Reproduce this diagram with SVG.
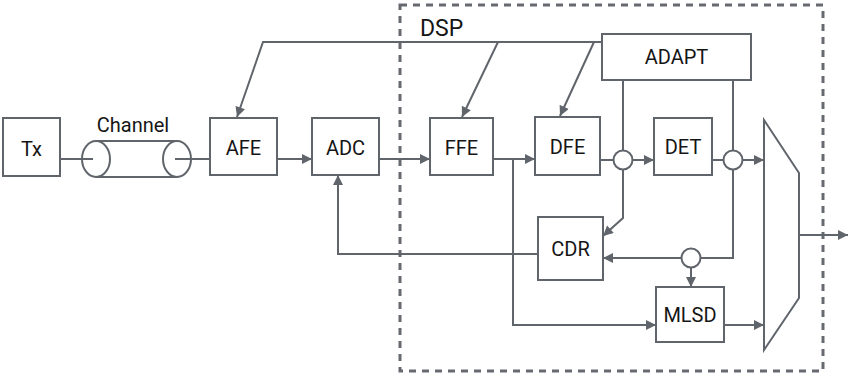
<svg xmlns="http://www.w3.org/2000/svg" width="850" height="376" viewBox="0 0 850 376">
<defs>
<style>
.box{fill:#fff;stroke:#60646b;stroke-width:2}
.ln{fill:none;stroke:#60646b;stroke-width:2}
.arr{fill:none;stroke:#60646b;stroke-width:2;marker-end:url(#ah)}
.t{font-family:Roboto,"Liberation Sans",sans-serif;font-size:20px;fill:#151515;text-anchor:middle}
.cir{fill:#fff;stroke:#60646b;stroke-width:2}
</style>
<marker id="ah" viewBox="0 0 10 10" refX="10" refY="5" markerWidth="11" markerHeight="10" markerUnits="userSpaceOnUse" orient="auto">
<path d="M0,0 L10,5 L0,10 z" fill="#60646b"/>
</marker>
</defs>
<rect width="850" height="376" fill="#fff"/>
<g id="dsp">
<rect x="400" y="5" width="423" height="366" fill="none" stroke="#666a70" stroke-width="3" stroke-dasharray="7 6"/>
<text x="420" y="36" style="font-family:Roboto,'Liberation Sans',sans-serif;font-size:23px;fill:#151515">DSP</text>
</g>
<g id="connectors">
<line class="ln" x1="60" y1="159" x2="93" y2="159"/>
<line class="ln" x1="175" y1="159" x2="210" y2="159"/>
<polyline class="arr" points="602,42 263,42 237,117"/>
<line class="arr" x1="498" y1="42" x2="462" y2="117"/>
<line class="arr" x1="594" y1="42" x2="560" y2="116"/>
<line class="arr" x1="277" y1="159" x2="312" y2="159"/>
<line class="arr" x1="379" y1="159" x2="430" y2="159"/>
<line class="arr" x1="493" y1="159" x2="535" y2="159"/>
<line class="ln" x1="600" y1="160" x2="613.5" y2="160"/>
<line class="arr" x1="632.5" y1="160" x2="654" y2="160"/>
<line class="ln" x1="712" y1="160" x2="723.5" y2="160"/>
<line class="arr" x1="742.5" y1="160" x2="764" y2="160"/>
<line class="ln" x1="623" y1="80" x2="623" y2="150.5"/>
<polyline class="arr" points="623,169.5 623,218 603,236"/>
<line class="ln" x1="733" y1="80" x2="733" y2="150.5"/>
<polyline class="ln" points="733,169.5 733,258 700.5,258"/>
<line class="arr" x1="681.5" y1="258" x2="603" y2="258"/>
<line class="arr" x1="691" y1="267.5" x2="691" y2="287"/>
<polyline class="arr" points="538,254 338,254 338,175"/>
<polyline class="arr" points="513,159 513,325 656,325"/>
<line class="arr" x1="724" y1="325" x2="764" y2="325"/>
<line class="arr" x1="799" y1="235" x2="848" y2="235"/>
</g>
<g id="tx"><rect class="box" x="3" y="118" width="57" height="58"/><text class="t" x="31.5" y="156">Tx</text></g>
<g id="channel">
<path class="ln" d="M96,141 H177 M96,177 H177"/>
<ellipse class="cir" cx="96" cy="159" rx="14" ry="18"/>
<ellipse class="cir" cx="177" cy="159" rx="14" ry="18"/>
<line class="ln" x1="82" y1="159" x2="93" y2="159"/>
<line class="ln" x1="175" y1="159" x2="191" y2="159"/>
<text class="t" x="133" y="132">Channel</text>
</g>
<g id="afe"><rect class="box" x="210" y="118" width="67" height="57"/><text class="t" x="243.5" y="155">AFE</text></g>
<g id="adc"><rect class="box" x="312" y="118" width="67" height="57"/><text class="t" x="345.5" y="155">ADC</text></g>
<g id="ffe"><rect class="box" x="430" y="118" width="63" height="57"/><text class="t" x="461.5" y="155">FFE</text></g>
<g id="dfe"><rect class="box" x="535" y="117" width="65" height="58"/><text class="t" x="567.5" y="154">DFE</text></g>
<g id="det"><rect class="box" x="654" y="118" width="58" height="57"/><text class="t" x="683" y="154">DET</text></g>
<g id="adapt"><rect class="box" x="602" y="34" width="149" height="46"/><text class="t" x="676.5" y="64">ADAPT</text></g>
<g id="cdr"><rect class="box" x="538" y="217" width="65" height="63"/><text class="t" x="570.5" y="256">CDR</text></g>
<g id="mlsd"><rect class="box" x="656" y="287" width="68" height="55"/><text class="t" x="690" y="322">MLSD</text></g>
<g id="sum1"><circle class="cir" cx="623" cy="160" r="9.5"/></g>
<g id="sum2"><circle class="cir" cx="733" cy="160" r="9.5"/></g>
<g id="tap"><circle class="cir" cx="691" cy="258" r="9.5"/></g>
<g id="mux"><polygon class="box" points="764,120 799,173 799,298 764,350"/></g>
</svg>
